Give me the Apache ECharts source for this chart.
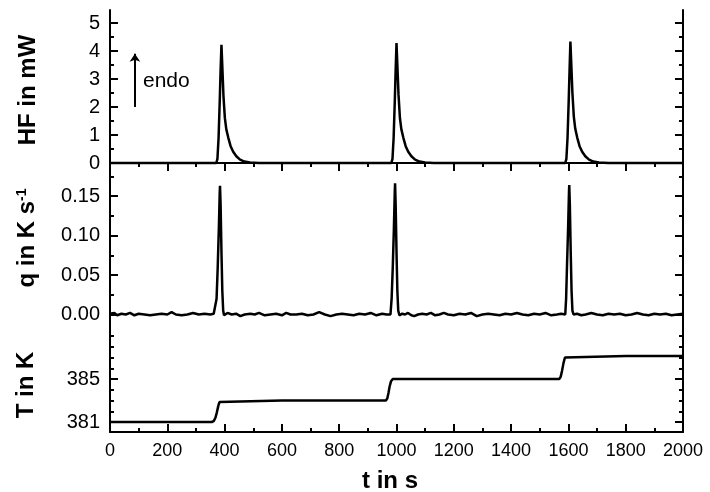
<!DOCTYPE html>
<html><head><meta charset="utf-8">
<script src="https://cdn.jsdelivr.net/npm/echarts@6/dist/echarts.min.js"></script>
<style>html,body{margin:0;padding:0;background:#fff}#c{width:710px;height:492px}</style>
</head><body><div id="c"></div>
<script>
// ---- data ----
const hfTime = [0,100,200,300,371,375,379,383,386,389,392,396,401,406,413,421,430,441,454,469,489,520,700,900,982,986,990,994,997,1000,1003,1007,1012,1017,1024,1032,1041,1052,1065,1080,1100,1130,1300,1500,1589,1593,1597,1601,1604,1607,1610,1614,1619,1624,1631,1639,1648,1659,1672,1687,1707,1740,1900,2000];
const hfValue = [0,0,0,0,0,0.15,0.9,2.2,3.3,4.22,3.45,2.4,1.6,1.2,0.9,0.6,0.4,0.24,0.12,0.05,0.015,0,0,0,0,0.15,0.9,2.2,3.3,4.28,3.5,2.45,1.6,1.2,0.9,0.6,0.4,0.24,0.12,0.05,0.015,0,0,0,0,0.15,0.9,2.2,3.3,4.34,3.55,2.5,1.65,1.22,0.9,0.6,0.4,0.24,0.12,0.05,0.015,0,0,0];

const qTime = [0,15,25,40,55,70,85,100,120,140,160,180,200,215,230,250,270,290,310,330,350,362,368,372,376,380,383,384,386,389,392,395,398,410,425,440,455,470,490,505,520,540,560,580,600,615,630,650,670,690,710,730,750,770,790,810,830,850,870,890,910,930,950,965,979,983,987,991,994,995,997,1000,1003,1006,1010,1020,1030,1040,1052,1062,1075,1090,1105,1120,1135,1150,1165,1180,1200,1220,1240,1260,1280,1300,1320,1340,1360,1380,1400,1420,1440,1460,1480,1500,1520,1540,1560,1575,1589,1592,1595,1599,1602,1603,1605,1608,1611,1614,1618,1630,1645,1660,1680,1700,1720,1740,1760,1780,1800,1820,1840,1860,1880,1900,1920,1940,1960,1980,2000];
const qValue = [0.001,0.002,-0.001,0.001,0,0.002,-0.001,0.001,0,-0.001,0,0.001,0,0.003,0,-0.001,0,0.002,0,0.001,0,0.001,0,0.02,0.06,0.11,0.155,0.163,0.14,0.08,0.03,0.005,-0.001,0.002,0,0.001,-0.002,0,0.001,0,0.002,-0.001,0,0.001,-0.001,0.002,0,0,0.001,-0.001,0,0.003,0,-0.002,0,0.001,0,-0.001,0.001,0,0.002,-0.001,0.001,0,0,0.02,0.06,0.11,0.156,0.166,0.14,0.08,0.03,0.005,-0.001,0.001,0,0.002,-0.001,-0.002,0,0.001,0,0.002,-0.001,0,0.002,0,-0.001,0.001,0,0.002,-0.002,0,0.001,0,-0.001,0.001,0,0.002,0,-0.001,0.001,0,0.002,-0.001,0,0.001,0,0.02,0.06,0.11,0.155,0.164,0.14,0.08,0.03,0.005,0,0.001,-0.001,0,0.002,0,-0.001,0.001,0,0.001,-0.001,0,0.002,0,-0.001,0.001,0,0.001,-0.001,0,0.001];

const tTime = [0,200,355,362,368,373,378,382,387,600,800,963,968,972,976,981,987,1200,1400,1568,1573,1578,1583,1588,1594,1800,2000];
const tValue = [381.0,381.0,381.0,381.08,381.4,381.9,382.5,382.85,383.0,383.0,383.0,383.0,383.2,383.7,384.3,384.8,385.0,385.0,385.0,385.0,385.2,385.8,386.5,387.0,387.15,387.15,387.15];

const xMajor = [0,200,400,600,800,1000,1200,1400,1600,1800,2000];
const xMinor = [100,300,500,700,900,1100,1300,1500,1700,1900];
const hfMajor = [0,1,2,3,4,5];
const hfMinor = [0.5,1.5,2.5,3.5,4.5];
const qMajor = [0,0.05,0.10,0.15];
const qMinor = [0.025,0.075,0.125,0.175];
const tMajor = [381,385];
const tMinor = [382,383,384,386,387,388,389];

// ---- layout ----
const FONT = 'Liberation Sans, Arial, Helvetica, sans-serif';
const L = 110, W = 573;
const grids = [
  {left:L, width:W, top:10, height:156},
  {left:L, width:W, top:166, height:154},
  {left:L, width:W, top:320, height:112}
];
const ranges = [[-0.107,5.464],[-0.00696,0.188],[380.07,390.49]];
const majors = [hfMajor,qMajor,tMajor];
const minors = [hfMinor,qMinor,tMinor];
const fmts = [v=>String(Math.round(v)), v=>v.toFixed(2), v=>String(Math.round(v))];
const line = {show:true, lineStyle:{color:'#000', width:2}};

const yAxis = [];
for (let g=0; g<3; g++) {
  ['left','right'].forEach(pos=>{
    yAxis.push({type:'value', gridIndex:g, position:pos, min:ranges[g][0], max:ranges[g][1],
      axisLine:line, splitLine:{show:false},
      axisTick:{show:true, inside:true, length:8, customValues:majors[g], lineStyle:{color:'#000',width:2}},
      axisLabel:pos==='left'?{show:true, customValues:majors[g], formatter:fmts[g], color:'#000', fontSize:20, fontFamily:FONT, margin:10}:{show:false}
    });
    yAxis.push({type:'value', gridIndex:g, position:pos, min:ranges[g][0], max:ranges[g][1],
      axisLine:{show:false}, splitLine:{show:false}, axisLabel:{show:false},
      axisTick:{show:true, inside:true, length:4, customValues:minors[g], lineStyle:{color:'#000',width:2}}
    });
  });
}
const xBase = {type:'value', min:0, max:2000, splitLine:{show:false}};
const xAxis = [
  Object.assign({}, xBase, {gridIndex:0, position:'top', axisLine:line, axisLabel:{show:false},
    axisTick:{show:true, inside:true, length:8, customValues:xMajor, lineStyle:{color:'#000',width:2}}}),
  Object.assign({}, xBase, {gridIndex:0, position:'top', axisLine:{show:false}, axisLabel:{show:false},
    axisTick:{show:true, inside:true, length:4, customValues:xMinor, lineStyle:{color:'#000',width:2}}}),
  Object.assign({}, xBase, {gridIndex:1, show:false}),
  Object.assign({}, xBase, {gridIndex:2, position:'bottom', axisLine:line,
    axisLabel:{show:true, customValues:xMajor, formatter:v=>String(v), color:'#000', fontSize:18, fontFamily:FONT, margin:10},
    axisTick:{show:true, inside:true, length:8, customValues:xMajor, lineStyle:{color:'#000',width:2}}}),
  Object.assign({}, xBase, {gridIndex:2, position:'bottom', axisLine:{show:false}, axisLabel:{show:false},
    axisTick:{show:true, inside:true, length:4, customValues:xMinor, lineStyle:{color:'#000',width:2}}})
];
const zip = (a,b)=>a.map((t,i)=>[t,b[i]]);
const lineStyle = {color:'#000', width:2.5};

const chart = echarts.init(document.getElementById('c'), null, {renderer:'canvas'});
chart.setOption({
  animation:false,
  backgroundColor:'#fff',
  grid:grids,
  xAxis:xAxis,
  yAxis:yAxis,
  series:[
    {type:'line', xAxisIndex:0, yAxisIndex:0, data:zip(hfTime,hfValue), showSymbol:false, lineStyle:lineStyle, clip:false,
     markLine:{silent:true, symbol:['none','arrow'], symbolSize:8, label:{show:false},
       lineStyle:{color:'#000', width:2, type:'solid'},
       data:[[{coord:[87,2.0]},{coord:[87,3.9]}]]}},
    {type:'line', xAxisIndex:2, yAxisIndex:4, data:zip(qTime,qValue), showSymbol:false, lineStyle:lineStyle},
    {type:'line', xAxisIndex:3, yAxisIndex:8, data:zip(tTime,tValue), showSymbol:false, lineStyle:lineStyle}
  ],
  graphic:[
    {type:'text', left:143, top:71, style:{text:'endo', font:'21px '+FONT, fill:'#000'}},
    {type:'text', x:28, y:90, rotation:Math.PI/2, style:{text:'HF in mW', font:'bold 24px '+FONT, fill:'#000', align:'center', verticalAlign:'middle'}},
    {type:'text', x:27, y:238, rotation:Math.PI/2, style:{text:'{a|q in K s}{s|-1}', align:'center', verticalAlign:'middle',
      rich:{a:{font:'bold 24px '+FONT, color:'#000'}, s:{font:'bold 14px '+FONT, color:'#000', verticalAlign:'top'}}}},
    {type:'text', x:26, y:385, rotation:Math.PI/2, style:{text:'T in K', font:'bold 24px '+FONT, fill:'#000', align:'center', verticalAlign:'middle'}},
    {type:'text', x:390, y:481, style:{text:'t in s', font:'bold 24px '+FONT, fill:'#000', align:'center', verticalAlign:'middle'}}
  ]
});
</script></body></html>
